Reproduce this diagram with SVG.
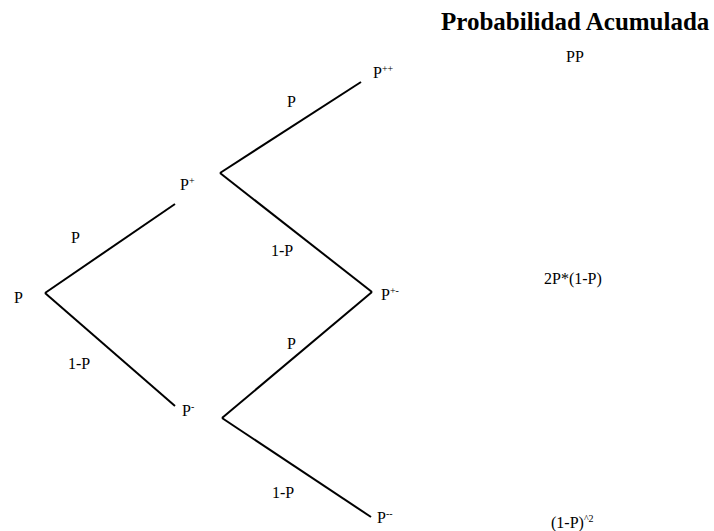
<svg xmlns="http://www.w3.org/2000/svg" width="714" height="531" viewBox="0 0 714 531">
<style>
text { font-family: "Liberation Serif", "Times New Roman", serif; font-size: 16px; fill: #000; }
.sup { font-size: 10px; }
.title { font-size: 25px; font-weight: bold; }
.edge { stroke: #000; stroke-width: 2; fill: none; }
</style>
<rect width="714" height="531" fill="#fff"/>
<g id="connectors">
<line class="edge" x1="45" y1="293" x2="175" y2="204"/>
<line class="edge" x1="45" y1="293" x2="175" y2="406"/>
<line class="edge" x1="220" y1="173" x2="361" y2="82"/>
<line class="edge" x1="220" y1="173" x2="372" y2="292"/>
<line class="edge" x1="222" y1="418" x2="372" y2="292"/>
<line class="edge" x1="222" y1="418" x2="371" y2="517"/>
</g>
<g id="edge-labels">
<text x="71" y="243">P</text>
<text x="68" y="369">1-P</text>
<text x="287" y="107">P</text>
<text x="271" y="256">1-P</text>
<text x="287" y="349">P</text>
<text x="272" y="498">1-P</text>
</g>
<g id="node-P"><text x="14" y="303">P</text></g>
<g id="node-Pp"><text x="180" y="190">P<tspan class="sup" dy="-6">+</tspan></text></g>
<g id="node-Pm"><text x="182" y="416">P<tspan class="sup" dy="-6">-</tspan></text></g>
<g id="node-Ppp"><text x="373" y="78">P<tspan class="sup" dy="-6">++</tspan></text></g>
<g id="node-Ppm"><text x="381" y="300">P<tspan class="sup" dy="-6">+-</tspan></text></g>
<g id="node-Pmm"><text x="377" y="523">P<tspan class="sup" dy="-6">--</tspan></text></g>
<g id="probabilities">
<text class="title" x="441" y="30">Probabilidad Acumulada</text>
<text x="566" y="62">PP</text>
<text x="544" y="284">2P*(1-P)</text>
<text x="551" y="528">(1-P)<tspan class="sup" dy="-6">^2</tspan></text>
</g>
</svg>
